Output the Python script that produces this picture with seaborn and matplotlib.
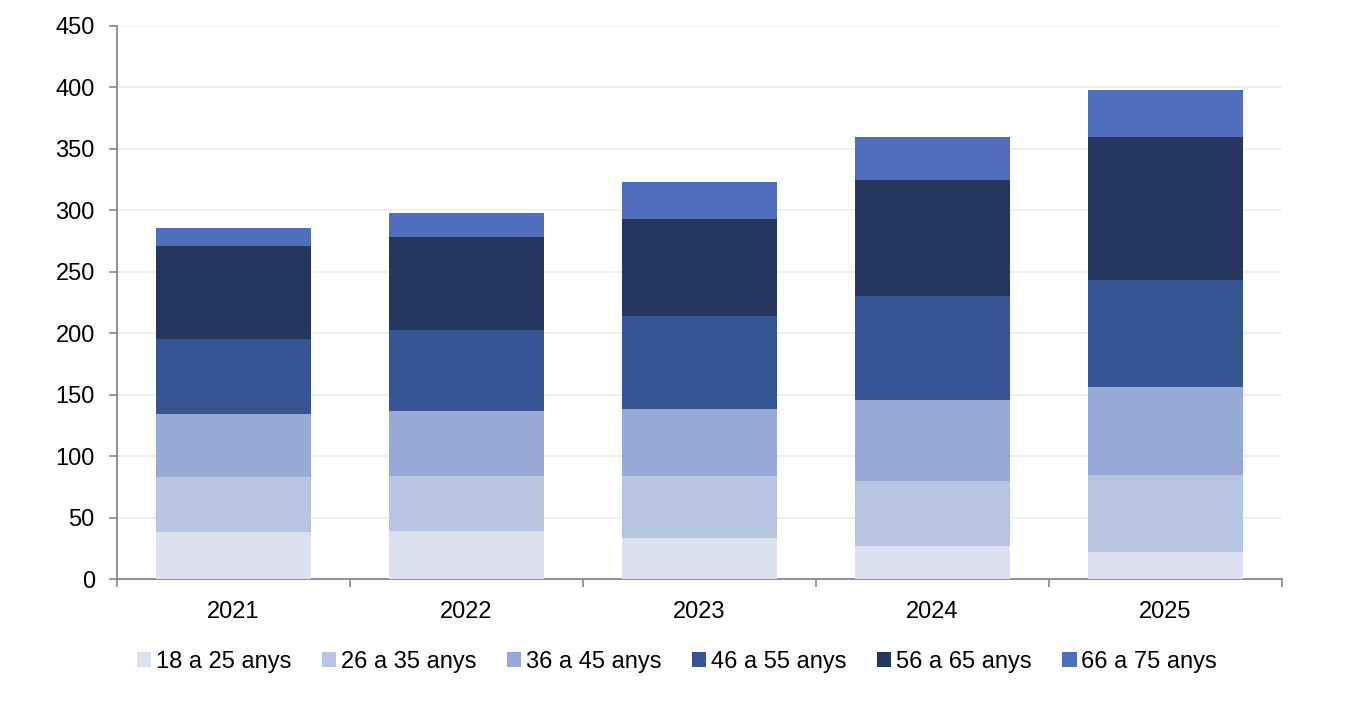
import matplotlib
matplotlib.use("Agg")
import matplotlib.pyplot as plt
import seaborn as sns
import numpy as np
from matplotlib.patches import Patch

years = ["2021", "2022", "2023", "2024", "2025"]
series_names = ["18 a 25 anys", "26 a 35 anys", "36 a 45 anys",
                "46 a 55 anys", "56 a 65 anys", "66 a 75 anys"]
s18_25 = [38, 39, 33, 27, 22]
s26_35 = [45, 45, 51, 53, 63]
s36_45 = [51, 53, 54, 66, 71]
s46_55 = [61, 66, 76, 84, 87]
s56_65 = [76, 75, 79, 95, 117]
s66_75 = [15, 20, 30, 35, 38]
series_values = [s18_25, s26_35, s36_45, s46_55, s56_65, s66_75]
colors = ["#DCE1F2", "#B7C5E2", "#97A9D7", "#375493", "#26375F", "#4F6FBE"]

sns.set_theme(style="white")
plt.rcParams['font.family'] = ['Liberation Sans', 'DejaVu Sans']
plt.rcParams['text.color'] = 'black'

fig = plt.figure(figsize=(13.54, 7.22), dpi=100)
ax = fig.add_axes([117/1354, 1 - 579/722, (1282 - 117)/1354, (579 - 26)/722])

bottom = np.zeros(len(years))
for name, vals, col in zip(series_names, series_values, colors):
    sns.barplot(x=years, y=vals, bottom=bottom, color=col, width=0.665,
                ax=ax, saturation=1, linewidth=0, label=name, zorder=3)
    bottom = bottom + np.array(vals)

ax.set_xlim(-0.5, 4.5)
ax.set_ylim(0, 450)
ax.set_yticks(range(0, 451, 50))
ax.yaxis.grid(True, color="#EEEEEE", linewidth=1.2, zorder=0)
ax.set_axisbelow(True)

for sp in ["top", "right"]:
    ax.spines[sp].set_visible(False)
for sp in ["left", "bottom"]:
    ax.spines[sp].set_color("#888888")
    ax.spines[sp].set_linewidth(1.3)

ax.tick_params(axis="y", which="major", length=6, width=1.2, color="#888888",
               labelsize=17, labelcolor="black", pad=10, left=True, direction="out")
ax.tick_params(axis="x", which="major", length=0, labelsize=17, labelcolor="black", pad=16)
ax.set_xticks(np.arange(-0.5, 5.0, 1.0), minor=True)
ax.tick_params(axis="x", which="minor", length=6, width=1.2, color="#888888",
               bottom=True, direction="out")
ax.set_xlabel("")
ax.set_ylabel("")

if ax.get_legend() is not None:
    ax.get_legend().remove()
handles = [Patch(facecolor=c, edgecolor="none") for c in colors]
leg = fig.legend(handles, series_names, loc="center", bbox_to_anchor=(0.5, 1 - 662/722),
                 ncol=6, frameon=False, fontsize=17, handlelength=0.6, handleheight=0.6,
                 handletextpad=0.2, columnspacing=1.3)
for t in leg.get_texts():
    t.set_color("black")

fig.savefig("out.png", dpi=100)
